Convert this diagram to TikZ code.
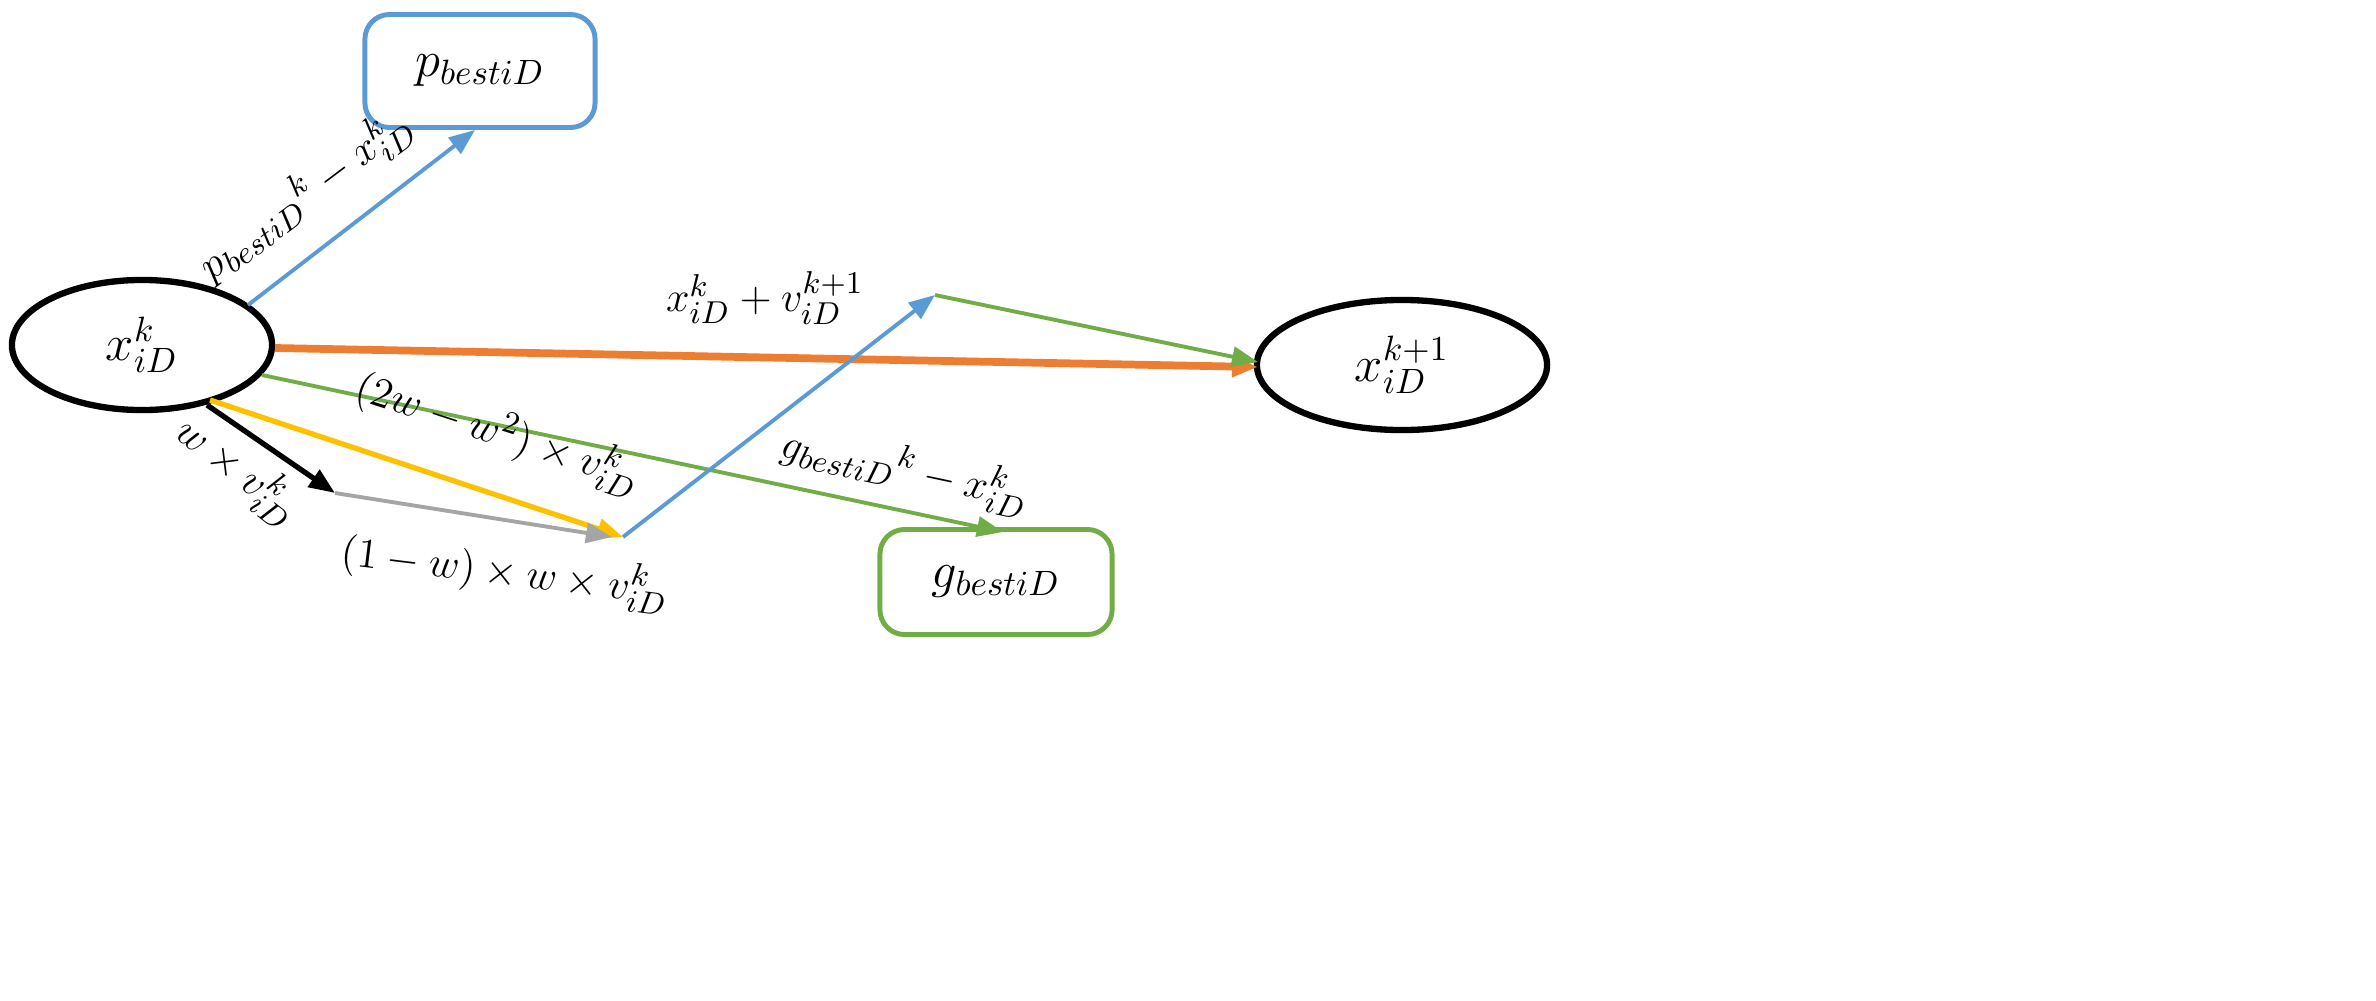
\documentclass[tikz,border=0pt]{standalone}
\usetikzlibrary{shapes.geometric,arrows.meta}
\begin{document}
\begin{tikzpicture}[x=0.01cm,y=-0.01cm,
  lbl/.style={font=\fontsize{12.5}{14}\selectfont,inner sep=1pt},
  ar/.style={line width=1.1pt,-{Triangle[length=2.6mm,width=2mm]}},
  bx/.style={draw,rounded corners=7pt,line width=1.4pt},
  el/.style={draw,ellipse,line width=1.8pt,inner sep=0pt,font=\fontsize{14}{16}\selectfont}]
\useasboundingbox (0,0) rectangle (2376,1000);
\definecolor{cblue}{RGB}{91,155,213}
\definecolor{cgreen}{RGB}{112,173,71}
\definecolor{corange}{RGB}{237,125,49}
\definecolor{cyellow}{RGB}{255,192,0}
\definecolor{cgray}{RGB}{165,165,165}
\node[el,minimum width=2.6cm,minimum height=1.3cm] (xk) at (142,345) {$x_{iD}^{k}$};
\node[el,minimum width=2.9cm,minimum height=1.3cm] (xk1) at (1402,365) {$x_{iD}^{k+1}$};
\node[bx,draw=cblue,minimum width=2.3cm,minimum height=1.13cm,font=\fontsize{14}{16}\selectfont] (pb) at (480,71) {$p_{bestiD}$};
\node[bx,draw=cgreen,minimum width=2.32cm,minimum height=1.05cm,font=\fontsize{14}{16}\selectfont] (gb) at (996,582) {$g_{bestiD}$};
\coordinate (a1) at (248,305);
\coordinate (a2) at (475,130);
\coordinate (o1) at (275,348);
\coordinate (o2) at (1258,367);
\coordinate (g1) at (262,375);
\coordinate (g2) at (1003,532);
\coordinate (y1) at (210,400);
\coordinate (m) at (623,537);
\coordinate (b1) at (207,405);
\coordinate (b2) at (335,493);
\coordinate (gr) at (612,537);
\coordinate (t) at (935,295);
\coordinate (r) at (1258,362);
\draw[ar,cblue] (a1) -- (a2);
\draw[ar,corange,line width=2.2pt] (o1) -- (o2);
\draw[ar,cgreen] (g1) -- (g2);
\draw[ar,cyellow,line width=1.5pt] (y1) -- (m);
\draw[ar,black,line width=1.5pt] (b1) -- (b2);
\draw[ar,cgray] (b2) -- (gr);
\draw[ar,cblue] (m) -- (t);
\draw[ar,cgreen] (t) -- (r);
\node[lbl,rotate=37] at (305,195) {$p_{bestiD}{}^{k}-x_{iD}^{k}$};
\node[lbl] at (765,298) {$x_{iD}^{k}+v_{iD}^{k+1}$};
\node[lbl,rotate=-18] at (498,432) {$(2w-w^2)\times v_{iD}^{k}$};
\node[lbl,rotate=-38] at (238,470) {$w\times v_{iD}^{k}$};
\node[lbl,rotate=-7] at (505,572) {$(1-w)\times w\times v_{iD}^{k}$};
\node[lbl,rotate=-12] at (905,470) {$g_{bestiD}{}^{k}-x_{iD}^{k}$};
\end{tikzpicture}
\end{document}
